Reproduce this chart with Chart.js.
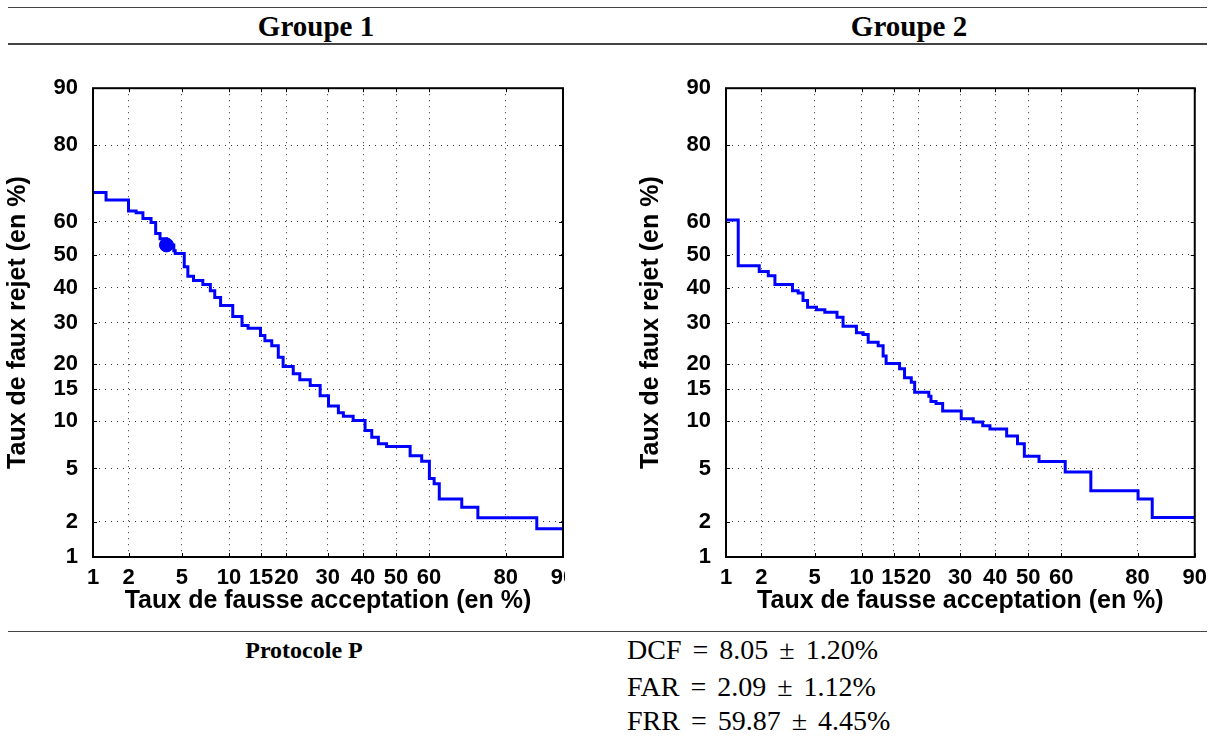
<!DOCTYPE html>
<html>
<head>
<meta charset="utf-8">
<script src="https://cdn.jsdelivr.net/npm/chart.js@4.4.1/dist/chart.umd.min.js"></script>
<style>
  body { margin: 0; background: #fff; width: 1215px; height: 741px; position: relative; overflow: hidden; }
  .rule { position: absolute; left: 8px; width: 1199px; background: #444; }
  .head { position: absolute; font: bold 29px "Liberation Serif", serif; transform: translateX(-50%); white-space: nowrap; }
  .proto { position: absolute; font: bold 24px "Liberation Serif", serif; transform: translateX(-50%); white-space: nowrap; }
  .stat { position: absolute; left: 627px; font: 28px "Liberation Serif", serif; word-spacing: 4px; white-space: nowrap; }
  .wrap { position: absolute; top: 60px; overflow: hidden; }
</style>
</head>
<body>
<div class="rule" style="top:7px;height:1px"></div>
<div class="head" style="left:316px;top:10px">Groupe 1</div>
<div class="head" style="left:909px;top:10px">Groupe 2</div>
<div class="rule" style="top:43px;height:2px"></div>

<div class="wrap" style="left:0;width:565px;height:560px"><canvas id="c1" width="600" height="560"></canvas></div>
<div class="wrap" style="left:633px;width:582px;height:560px"><canvas id="c2" width="582" height="560"></canvas></div>

<div class="rule" style="top:631px;height:1px"></div>
<div class="proto" style="left:304px;top:637px">Protocole P</div>
<div class="stat" style="top:634px">DCF = 8.05 ± 1.20%</div>
<div class="stat" style="top:671px">FAR = 2.09 ± 1.12%</div>
<div class="stat" style="top:705px">FRR = 59.87 ± 4.45%</div>

<script>
// tick values shared by both axes (percent)
const tickValues = [1, 2, 5, 10, 15, 20, 30, 40, 50, 60, 80, 90];

// Groupe 1 : DET curve (false acceptance %, false rejection %), step starts
const g1Far = [1.0, 1.3, 2.0, 2.3, 2.6, 3.0, 3.25, 3.5, 3.9, 4.4, 4.5, 5.2, 5.5, 6.0, 6.9, 7.7, 8.2, 8.9, 10.5, 11.85, 12.8, 14.9, 15.7, 17.0, 18.3, 19.3, 21.5, 23.0, 25.5, 28.0, 30.2, 32.9, 34.3, 37.1, 40.6, 42.6, 44.6, 47.1, 54.3, 57.8, 60.1, 61.5, 63.0, 69.3, 73.5, 86.0, 90];
const g1Frr = [68.4, 66.3, 63.2, 62.7, 61.0, 59.8, 56.5, 54.9, 53.0, 51.2, 50.4, 46.3, 43.4, 42.1, 40.9, 39.1, 37.1, 34.8, 31.7, 29.3, 28.6, 26.7, 25.4, 24.2, 21.5, 19.5, 18.0, 16.8, 15.7, 13.9, 12.2, 11.2, 10.7, 10.1, 8.8, 8.0, 7.3, 7.0, 6.1, 5.6, 4.25, 3.9, 3.0, 2.6, 2.15, 1.75, 1.75];
// operating point marked on Groupe 1
const g1PointFar = [3.9];
const g1PointFrr = [53.0];

// Groupe 2
const g2Far = [1.0, 1.28, 1.92, 2.27, 2.56, 3.48, 3.83, 4.15, 4.47, 5.16, 5.87, 7.05, 7.7, 9.3, 10.2, 10.9, 12.4, 13.2, 13.7, 16.1, 17.05, 18.4, 19.1, 22.2, 22.7, 23.9, 25.5, 30.3, 33.6, 36.3, 38.4, 43.4, 46.7, 48.8, 53.3, 61.2, 68.5, 80.1, 83.0, 90];
const g2Frr = [60.5, 46.6, 44.9, 43.6, 40.9, 39.1, 38.4, 36.2, 34.3, 33.6, 32.9, 31.5, 29.1, 27.4, 26.95, 25.0, 24.2, 21.8, 20.1, 19.0, 17.2, 16.3, 14.5, 13.8, 12.95, 12.6, 11.45, 10.35, 9.9, 9.4, 9.0, 8.15, 7.3, 6.05, 5.57, 4.73, 3.46, 3.0, 2.16, 2.16];

// inverse normal cdf (Acklam)
function probit(p) {
  const a = [-3.969683028665376e+01, 2.209460984245205e+02, -2.759285104469687e+02, 1.383577518672690e+02, -3.066479806614716e+01, 2.506628277459239e+00];
  const b = [-5.447609879822406e+01, 1.615858368580409e+02, -1.556989798598866e+02, 6.680131188771972e+01, -1.328068155288572e+01];
  const c = [-7.784894002430293e-03, -3.223964580411365e-01, -2.400758277161838e+00, -2.549671010268147e+00, 4.374664141464968e+00, 2.938163982698783e+00];
  const d = [7.784695709041462e-03, 3.224671290700398e-01, 2.445134137142996e+00, 3.754408661907416e+00];
  const pl = 0.02425;
  if (p < pl) {
    const q = Math.sqrt(-2 * Math.log(p));
    return (((((c[0]*q+c[1])*q+c[2])*q+c[3])*q+c[4])*q+c[5]) / ((((d[0]*q+d[1])*q+d[2])*q+d[3])*q+1);
  }
  if (p > 1 - pl) {
    const q = Math.sqrt(-2 * Math.log(1 - p));
    return -(((((c[0]*q+c[1])*q+c[2])*q+c[3])*q+c[4])*q+c[5]) / ((((d[0]*q+d[1])*q+d[2])*q+d[3])*q+1);
  }
  const q = p - 0.5, r = q * q;
  return (((((a[0]*r+a[1])*r+a[2])*r+a[3])*r+a[4])*r+a[5])*q / (((((b[0]*r+b[1])*r+b[2])*r+b[3])*r+b[4])*r+1);
}

// normal deviate scale (DET plot)
class ProbitScale extends Chart.LinearScale {
  static id = 'probit';
  static defaults = {};
  determineDataLimits() {
    this.min = this.options.min;
    this.max = this.options.max;
  }
  buildTicks() {
    return tickValues.map(v => ({ value: v }));
  }
  configure() {
    super.configure();
    this._zMin = probit(this.min / 100);
    this._zMax = probit(this.max / 100);
  }
  getPixelForValue(v) {
    return this.getPixelForDecimal((probit(v / 100) - this._zMin) / (this._zMax - this._zMin));
  }
  getValueForPixel(px) {
    let lo = this.min, hi = this.max;
    for (let i = 0; i < 40; i++) {
      const mid = (lo + hi) / 2;
      const d = this.getPixelForValue(mid) - px;
      if ((d < 0) !== this._reversePixels) lo = mid; else hi = mid;
    }
    return (lo + hi) / 2;
  }
}
Chart.register(ProbitScale);

const frame = {
  id: 'frame',
  afterDraw(chart) {
    const { ctx, chartArea: a, scales } = chart;
    ctx.save();
    ctx.strokeStyle = '#000';
    ctx.lineWidth = 1;
    ctx.beginPath();
    scales.x.ticks.forEach(t => {
      const px = Math.round(scales.x.getPixelForValue(t.value)) + 0.5;
      ctx.moveTo(px, a.bottom); ctx.lineTo(px, a.bottom - 4);
      ctx.moveTo(px, a.top); ctx.lineTo(px, a.top + 4);
    });
    scales.y.ticks.forEach(t => {
      const py = Math.round(scales.y.getPixelForValue(t.value)) + 0.5;
      ctx.moveTo(a.left, py); ctx.lineTo(a.left + 4, py);
      ctx.moveTo(a.right, py); ctx.lineTo(a.right - 4, py);
    });
    ctx.stroke();
    ctx.lineWidth = 2;
    ctx.strokeRect(a.left, a.top, a.right - a.left, a.bottom - a.top);
    ctx.restore();
  }
};

const tickFont = { family: 'Liberation Sans', size: 22, weight: 'bold' };
const titleFont = { family: 'Liberation Sans', size: 25, weight: 'bold', lineHeight: 1 };

function drawDet(id, far, frr, ptFar, ptFrr, rightPad) {
  const datasets = [{
    data: far.map((x, i) => ({ x, y: frr[i] })),
    borderColor: '#0000ff',
    borderWidth: 3,
    pointRadius: 0,
    stepped: 'before',
    fill: false
  }];
  if (ptFar.length) {
    datasets.push({
      data: ptFar.map((x, i) => ({ x, y: ptFrr[i] })),
      showLine: false,
      pointRadius: 7,
      pointBackgroundColor: '#0000ff',
      pointBorderColor: '#0000ff'
    });
  }
  new Chart(document.getElementById(id), {
    type: 'line',
    data: { datasets },
    options: {
      responsive: false,
      animation: false,
      layout: { padding: { top: 27, right: rightPad, left: 0, bottom: 0 } },
      plugins: { legend: { display: false }, tooltip: { enabled: false } },
      scales: {
        x: {
          type: 'probit', min: 1, max: 90,
          grid: { color: '#333', lineWidth: 1, drawTicks: false },
          border: { display: false, dash: [1, 5] },
          ticks: { autoSkip: false, maxRotation: 0, padding: 8, color: '#000', font: tickFont, callback: v => String(v) },
          title: { display: true, text: 'Taux de fausse acceptation (en %)', color: '#000', font: titleFont, padding: { top: 0, bottom: 6 } },
          afterFit: s => { s.height = 63; }
        },
        y: {
          type: 'probit', min: 1, max: 90,
          grid: { color: '#333', lineWidth: 1, drawTicks: false },
          border: { display: false, dash: [1, 5] },
          ticks: { autoSkip: false, padding: 15, color: '#000', font: tickFont, callback: v => String(v) },
          title: { display: true, text: 'Taux de faux rejet (en %)', color: '#000', font: titleFont, padding: { top: 6, bottom: 0 } },
          afterFit: s => { s.width = 93; }
        }
      }
    },
    plugins: [frame]
  });
}

drawDet('c1', g1Far, g1Frr, g1PointFar, g1PointFrr, 37);
drawDet('c2', g2Far, g2Frr, [], [], 19);
</script>
</body>
</html>
